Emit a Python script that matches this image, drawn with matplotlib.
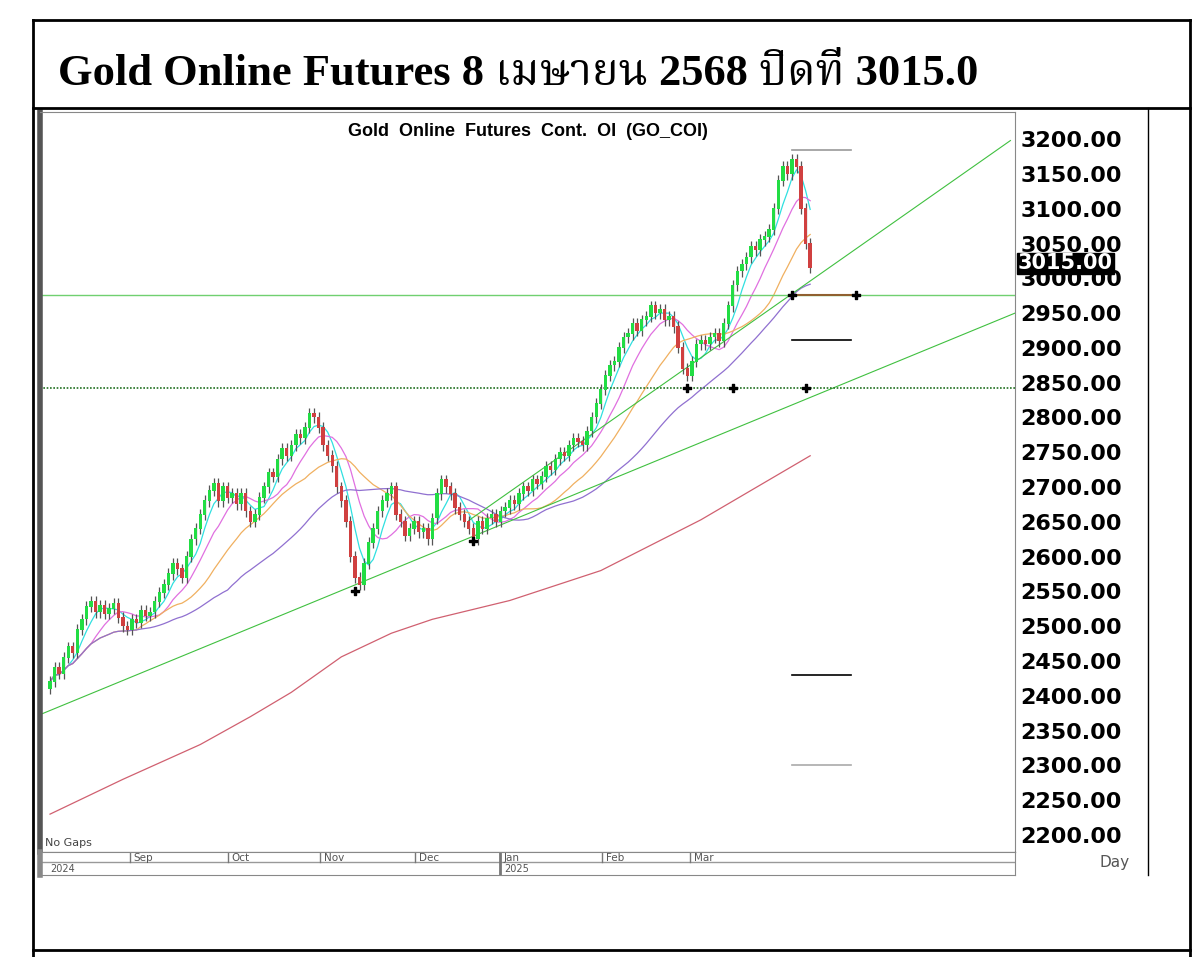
import matplotlib
matplotlib.use("Agg")
import matplotlib.pyplot as plt
import numpy as np
from matplotlib.lines import Line2D

closes = [2420, 2440, 2432, 2455, 2470, 2462, 2495, 2510, 2528, 2535,
          2520, 2530, 2518, 2525, 2532, 2512, 2500, 2495, 2510, 2505, 2522, 2515, 2520,
          2535, 2548, 2560, 2575, 2590, 2582, 2570, 2600, 2625, 2640, 2660,
          2680, 2695, 2705, 2680, 2700, 2685, 2690, 2675, 2690, 2665, 2650, 2660,
          2685, 2700, 2720, 2715, 2740, 2755, 2745, 2760, 2775, 2770, 2785, 2805, 2800,
          2785, 2760, 2745, 2730, 2700, 2680, 2650, 2600, 2570, 2560, 2590, 2620,
          2640, 2665, 2680, 2690, 2700, 2660, 2650, 2630, 2640, 2650, 2635, 2640,
          2625, 2655, 2690, 2710, 2700, 2690, 2670, 2660, 2650, 2640,
          2625, 2650, 2640, 2655, 2660, 2650, 2665, 2670, 2680, 2675, 2690,
          2700, 2695, 2710, 2705, 2715, 2730, 2725, 2740, 2750, 2745, 2760, 2770, 2765, 2760, 2780,
          2800, 2820, 2840, 2860, 2875, 2880, 2900, 2915, 2920,
          2935, 2925, 2940, 2945, 2960, 2950, 2955, 2940, 2945, 2930,
          2900, 2870, 2860, 2880, 2905, 2910, 2905, 2915, 2920, 2910, 2935, 2960,
          2990, 3010, 3020, 3030, 3045, 3040, 3055, 3060, 3070, 3100, 3140,
          3160, 3150, 3170, 3160, 3100, 3050, 3015]
ma200_x = [0, 16, 33, 44, 53, 64, 75, 84, 101, 121, 143, 167]
ma200_y = [2230, 2280, 2330, 2370, 2405, 2456, 2490, 2510, 2537, 2580, 2653, 2745]
month_labels = ["Sep", "Oct", "Nov", "Dec", "Jan", "Feb", "Mar"]
month_pos = [17.6, 39.1, 59.3, 80.2, 98.9, 121.3, 140.7]
yticks = list(range(2200, 3201, 50))
last_price = 3015.0
hlines = [2976, 2842]
trend1 = ([-2.2, 212], [2373, 2950])
trend2 = ([92, 211], [2652, 3198])
segs = [(163, 176, 3184, "#999999"), (163, 176, 2911, "black"),
        (163, 176, 2430, "black"), (163, 176, 2300, "#aaaaaa")]
pivots_x = [163, 177, 140, 150, 166, 67, 93]
pivots_y = [2976, 2976, 2842, 2842, 2842, 2550, 2622]

W, H = 1200, 957
fig = plt.figure(figsize=(12, 9.57), dpi=100)
fig.patch.set_facecolor("white")

def fl(x0, y0, x1, y1, lw=2, c="black"):
    fig.add_artist(Line2D([x0 / W, x1 / W], [1 - y0 / H, 1 - y1 / H], lw=lw, color=c))

fl(33, 20, 1190, 20); fl(33, 108, 1190, 108); fl(33, 20, 33, 957); fl(1190, 20, 1190, 957)
fl(33, 950, 1190, 950); fl(1148, 108, 1148, 875, lw=1)

fig.text(58 / W, 1 - 74 / H, "Gold Online Futures 8 เมษายน 2568 ปิดที่ 3015.0",
         fontsize=32, fontweight="bold", va="center",
         family=["Liberation Serif", "Noto Serif Thai", "Noto Sans Thai", "Loma", "DejaVu Sans"])

ax = fig.add_axes([40 / W, 1 - 852 / H, 975 / W, 740 / H])
ax.set_xlim(-2.2, 212)
ax.set_ylim(2175.6, 3239)
c = np.array(closes, float)
n = len(c)
o = np.r_[c[0] - 10, c[:-1]]
for i in range(n):
    up = c[i] >= o[i]
    col = "#22dd44" if up else "#d04040"
    hi, lo = max(o[i], c[i]) + 8, min(o[i], c[i]) - 8
    ax.vlines(i, lo, hi, color="#555555", lw=0.9, zorder=3)
    ax.bar(i, abs(c[i] - o[i]) + 1, bottom=min(o[i], c[i]), width=0.75, color=col, zorder=4)

def ma(v, k):
    return np.array([v[max(0, i - k + 1):i + 1].mean() for i in range(len(v))])

for k, colr in [(5, "#30e0e0"), (10, "#e070e0"), (20, "#f0b060"), (40, "#9070d0")]:
    ax.plot(range(n), ma(c, k), color=colr, lw=0.9, zorder=2)
ax.plot(ma200_x, ma200_y, color="#d06070", lw=0.9)
ax.plot(*trend1, color="#40c040", lw=0.8)
ax.plot(*trend2, color="#40c040", lw=0.8)
ax.axhline(hlines[0], color="#70d070", lw=1)
ax.axhline(hlines[1], color="#207020", lw=1.2, ls=(0, (1, 1)))
for x0, x1, yv, cc in segs:
    ax.plot([x0, x1], [yv, yv], color=cc, lw=1.2)
ax.plot([163, 177], [2976, 2976], color="#906030", lw=1.5)
ax.scatter(pivots_x, pivots_y, marker="P", s=30, color="black", zorder=6)

ax.yaxis.tick_right()
ax.set_yticks(yticks)
ax.set_yticklabels([f"{v:.2f}" for v in yticks], fontsize=16, fontweight="bold",
                   family="DejaVu Sans")
ax.tick_params(axis="y", length=0, pad=4)
ax.set_xticks([])
for s in ["top", "right"]:
    ax.spines[s].set_color("#888888")
ax.spines["left"].set_linewidth(4)
ax.spines["left"].set_color("#555555")
ax.text(0.5, 0.985, "Gold  Online  Futures  Cont.  OI  (GO_COI)", transform=ax.transAxes,
        ha="center", va="top", fontsize=13, fontweight="bold", family="Liberation Sans")
ax.text(0.005, 0.005, "No Gaps", transform=ax.transAxes, fontsize=8, color="#444444", va="bottom")
ax.text(1.003, (last_price - 2175.6) / (3239 - 2175.6) + 0.006, f"{last_price:.2f}", transform=ax.transAxes,
        va="center", ha="left", fontsize=15, fontweight="bold", color="white",
        family="DejaVu Sans", bbox=dict(facecolor="black", pad=0.5, edgecolor="black"))
fig.text(1130 / W, 1 - 862 / H, "Day", fontsize=11, color="#555555", ha="right", va="center")

bx = fig.add_axes([40 / W, 1 - 875 / H, 975 / W, 23 / H])
bx.set_xlim(-2.2, 212); bx.set_ylim(0, 1)
bx.set_xticks([]); bx.set_yticks([])
bx.axhline(0.55, color="#999999", lw=1)
for lab, p in zip(month_labels, month_pos):
    bx.plot([p, p], [0.55 if lab != "Jan" else 0, 1], color="#777777", lw=1 if lab != "Jan" else 2)
    bx.text(p + 0.8, 0.75, lab, fontsize=7.5, color="#555555", va="center")
bx.text(0, 0.25, "2024", fontsize=7, color="#555555", va="center")
bx.text(99.7, 0.25, "2025", fontsize=7, color="#555555", va="center")
for s in bx.spines.values():
    s.set_color("#888888")
bx.spines["left"].set_linewidth(4)

fig.savefig("out.png", dpi=100)
